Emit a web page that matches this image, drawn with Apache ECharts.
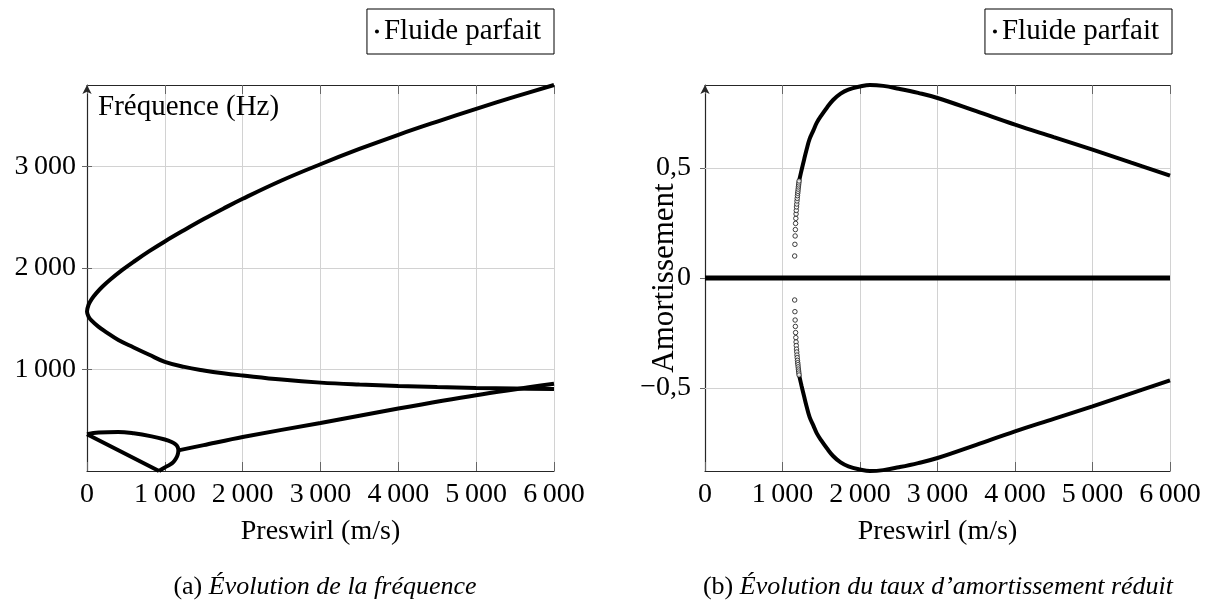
<!DOCTYPE html>
<html><head><meta charset="utf-8">
<script src="https://cdn.jsdelivr.net/npm/echarts@6/dist/echarts.min.js"></script>
<style>html,body{margin:0;padding:0;background:#fff}#c{width:1208px;height:606px}</style>
</head><body><div id="c"></div>
<script>
// ---------- data ----------
const seriesName = 'Fluide parfait';
const xTickValues = [0, 1000, 2000, 3000, 4000, 5000, 6000];
const freqTickValues = [1000, 2000, 3000];
const dampTickValues = [-0.5, 0, 0.5];

// Panel (a): frequency (Hz) vs preswirl (m/s)
// big branch: lower part (from right to 0) then upper part (0 to right)
const freqBranchLower = [[6000,807],[5500,812],[5000,818],[4500,826],[4000,837],[3500,851],[3000,870],[2500,900],[2000,940],[1750,962],[1500,990],[1250,1025],[1000,1075],[800,1144],[600,1216],[403,1289],[250,1365],[146,1421],[60,1480],[20,1520],[0,1569]];
const freqBranchUpper = [[0,1569],[20,1636],[60,1692],[120,1751],[200,1816],[300,1885],[450,1977],[600,2060],[800,2164],[1000,2260],[1250,2372],[1500,2480],[1750,2582],[2000,2680],[2500,2860],[3000,3020],[3500,3170],[4000,3310],[4500,3440],[5000,3565],[5500,3685],[6000,3800]];
// low loop
const freqLoopStraight = [[0,361],[403,204],[925,0]];
const freqLoopCurve = [[0,361],[150,378],[400,384],[600,371],[831,341],[1000,310],[1088,285],[1140,260],[1165,235],[1174,203],[1165,160],[1145,125],[1109,88],[1060,60],[1000,35],[925,0]];
const freqRising = [[1174,203],[1500,255],[2000,335],[3000,473],[4000,615],[5000,746],[6000,858]];

// Panel (b): reduced damping vs preswirl
const dampZero = [[0,0],[6000,0]];
const dampUpperDots = [[1157,0.100],[1160,0.153],[1163,0.191],[1166,0.220],[1169,0.248],[1172,0.271],[1175,0.291],[1178,0.307],[1181,0.323],[1184,0.336],[1187,0.350],[1190,0.362],[1193,0.374],[1196,0.385],[1199,0.394],[1202,0.404],[1205,0.414],[1208,0.423],[1211,0.432],[1214,0.441]];
const dampLowerDots = [[1157,-0.100],[1160,-0.153],[1163,-0.191],[1166,-0.220],[1169,-0.248],[1172,-0.271],[1175,-0.291],[1178,-0.307],[1181,-0.323],[1184,-0.336],[1187,-0.350],[1190,-0.362],[1193,-0.374],[1196,-0.385],[1199,-0.394],[1202,-0.404],[1205,-0.414],[1208,-0.423],[1211,-0.432],[1214,-0.441]];
const dampUpper = [[1214,0.441],[1247,0.492],[1280,0.540],[1312,0.585],[1350,0.632],[1400,0.672],[1441,0.705],[1500,0.738],[1575,0.775],[1656,0.810],[1750,0.838],[1850,0.856],[2000,0.870],[2129,0.877],[2300,0.873],[2500,0.860],[2750,0.841],[3000,0.818],[3500,0.758],[4000,0.697],[4500,0.640],[5000,0.583],[5500,0.524],[6000,0.465]];
const dampLower = [[1214,-0.441],[1247,-0.492],[1280,-0.540],[1312,-0.585],[1350,-0.632],[1400,-0.672],[1441,-0.705],[1500,-0.738],[1575,-0.775],[1656,-0.810],[1750,-0.838],[1850,-0.856],[2000,-0.870],[2129,-0.877],[2300,-0.873],[2500,-0.860],[2750,-0.841],[3000,-0.818],[3500,-0.758],[4000,-0.697],[4500,-0.640],[5000,-0.583],[5500,-0.524],[6000,-0.465]];

// ---------- chart ----------
const FONT = "'Liberation Serif','Times New Roman',serif";
const FS = 28;
const gridColor = '#d2d2d2';
const axisColor = '#262626';
const thousand = v => v === 0 ? '0' : (Math.round(v/1000) + '\u2009000');
const frNum = v => v === 0 ? '0' : ((v < 0 ? '\u2212' : '') + String(Math.abs(v)).replace('.', ','));

function xAxes(grid) {
  return [
    { gridIndex: grid, type: 'value', min: 0, max: 6000, interval: 1000, position: 'bottom',
      axisLine: { show: true, onZero: false, lineStyle: { color: axisColor, width: 1.2 } },
      axisTick: { show: true, inside: true, length: 9, lineStyle: { color: '#666' } },
      axisLabel: { margin: 10, fontSize: FS, fontFamily: FONT, color: '#000', formatter: thousand },
      splitLine: { show: true, lineStyle: { color: gridColor, width: 1 } },
      name: 'Preswirl (m/s)', nameLocation: 'middle', nameGap: 47, nameMoveOverlap: false,
      nameTextStyle: { fontSize: FS, fontFamily: FONT, color: '#000' } },
    { gridIndex: grid, type: 'value', min: 0, max: 6000, interval: 1000, position: 'top',
      axisLine: { show: true, onZero: false, lineStyle: { color: axisColor, width: 1.2 } },
      axisTick: { show: true, inside: true, length: 9, lineStyle: { color: '#666' } },
      axisLabel: { show: false }, splitLine: { show: false } }
  ];
}

const legendBase = { data: [seriesName], icon: 'circle', itemWidth: 4, itemHeight: 4, top: 9,
  padding: [8, 13, 8, 8], borderColor: '#000', borderWidth: 1, borderRadius: 0,
  textStyle: { fontSize: 29, fontFamily: FONT, color: '#000' }, selectedMode: false };

const option = {
  backgroundColor: '#fff',
  animation: false,
  color: ['#000'],
  legend: [
    Object.assign({}, legendBase, { right: 654 }),
    Object.assign({}, legendBase, { right: 36 })
  ],
  grid: [
    { left: 87, top: 85, width: 467, height: 386 },
    { left: 705, top: 85, width: 465, height: 386 }
  ],
  xAxis: [...xAxes(0), ...xAxes(1)],
  yAxis: [
    { gridIndex: 0, type: 'value', min: 0, max: 3800, interval: 1000,
      axisLine: { show: true, onZero: false, symbol: ['none', 'arrow'], symbolSize: [7, 9], lineStyle: { color: axisColor, width: 1.2 } },
      axisTick: { show: true, length: 5, customValues: freqTickValues, lineStyle: { color: '#666' } },
      axisLabel: { margin: 11, fontSize: FS, fontFamily: FONT, color: '#000', formatter: thousand, customValues: freqTickValues },
      splitLine: { show: true, lineStyle: { color: gridColor, width: 1 } },
      name: 'Fréquence (Hz)', nameLocation: 'end', nameGap: -8,
      nameTextStyle: { fontSize: 29, fontFamily: FONT, color: '#000', align: 'left', verticalAlign: 'top', padding: [0, 0, 0, 11] } },
    { gridIndex: 0, type: 'value', min: 0, max: 3800, interval: 1000, position: 'left',
      axisLine: { show: false }, axisTick: { show: true, inside: true, length: 5, customValues: freqTickValues, lineStyle: { color: '#666' } },
      axisLabel: { show: false }, splitLine: { show: false } },
    { gridIndex: 1, type: 'value', min: -0.877, max: 0.877,
      axisLine: { show: true, onZero: false, symbol: ['none', 'arrow'], symbolSize: [7, 9], lineStyle: { color: axisColor, width: 1.2 } },
      axisTick: { show: true, length: 5, customValues: dampTickValues, lineStyle: { color: '#666' } },
      axisLabel: { margin: 14, fontSize: FS, fontFamily: FONT, color: '#000', formatter: frNum, customValues: dampTickValues },
      splitLine: { show: false },
      name: 'Amortissement', nameLocation: 'middle', nameGap: 25, nameMoveOverlap: false,
      nameTextStyle: { fontSize: 31, fontFamily: FONT, color: '#000' } },
    { gridIndex: 1, type: 'value', min: -0.877, max: 0.877, position: 'left',
      axisLine: { show: false }, axisTick: { show: true, inside: true, length: 5, customValues: dampTickValues, lineStyle: { color: '#666' } },
      axisLabel: { show: false }, splitLine: { show: false } }
  ],
  graphic: [
    { type: 'text', x: 325, y: 587, style: { text: '{u|(a) }{i|Évolution de la fréquence}', align: 'center', verticalAlign: 'middle',
      rich: { u: { fontSize: 26, fontFamily: FONT, fill: '#000' }, i: { fontSize: 26, fontFamily: FONT, fontStyle: 'italic', fill: '#000' } } } },
    { type: 'text', x: 938, y: 587, style: { text: '{u|(b) }{i|Évolution du taux d\u2019amortissement réduit}', align: 'center', verticalAlign: 'middle',
      rich: { u: { fontSize: 26, fontFamily: FONT, fill: '#000' }, i: { fontSize: 26, fontFamily: FONT, fontStyle: 'italic', fill: '#000' } } } }
  ],
  series: []
};

function lineS(data, xi, yi, smooth, w) {
  return { name: seriesName, type: 'line', xAxisIndex: xi, yAxisIndex: yi, data: data,
    showSymbol: false, smooth: smooth, clip: false, z: 3,
    lineStyle: { color: '#000', width: w || 4 }, itemStyle: { color: '#000' } };
}
option.series.push(lineS(freqBranchLower.concat(freqBranchUpper.slice(1)), 0, 0, 0.4));
option.series.push(lineS(freqLoopStraight, 0, 0, false));
option.series.push(lineS(freqLoopCurve, 0, 0, 0.4));
option.series.push(lineS(freqRising, 0, 0, 0.3));
// horizontal grid lines of panel (b), placed with the library scale
option.series.push({ name: 'grid-b', type: 'line', xAxisIndex: 2, yAxisIndex: 2, data: [], z: 1, silent: true,
  markLine: { silent: true, z: 1, symbol: 'none', label: { show: false }, animation: false,
    lineStyle: { color: gridColor, width: 1, type: 'solid' },
    data: dampTickValues.map(v => ({ yAxis: v })) } });
option.series.push(lineS(dampZero, 2, 2, false, 5));
option.series.push(lineS(dampUpper, 2, 2, 0.4));
option.series.push(lineS(dampLower, 2, 2, 0.4));
const dotStyle = { color: '#fff', borderColor: '#111', borderWidth: 1 };
option.series.push({ name: seriesName, type: 'scatter', xAxisIndex: 2, yAxisIndex: 2, data: dampUpperDots, symbol: 'circle', symbolSize: 4.5, itemStyle: dotStyle, z: 4 });
option.series.push({ name: seriesName, type: 'scatter', xAxisIndex: 2, yAxisIndex: 2, data: dampLowerDots, symbol: 'circle', symbolSize: 4.5, itemStyle: dotStyle, z: 4 });

const chart = echarts.init(document.getElementById('c'), null, { renderer: 'canvas' });
chart.setOption(option);
</script>
</body></html>
